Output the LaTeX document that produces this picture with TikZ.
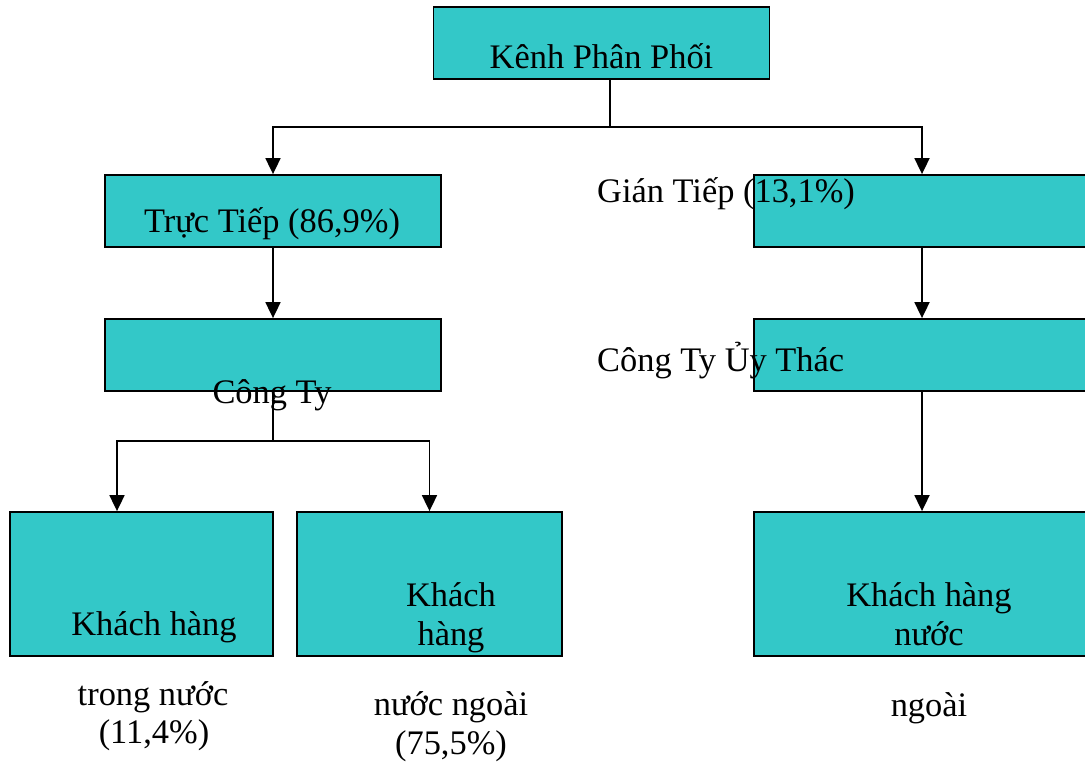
\documentclass[tikz,border=0pt]{standalone}
\usepackage{fontspec}
\setmainfont{Liberation Serif}
\usetikzlibrary{arrows.meta}
\definecolor{boxfill}{RGB}{51,200,200}
\begin{document}
\begin{tikzpicture}[x=1pt,y=-1pt]
	\tikzstyle{every node}=[font=\fontsize{34.4}{39}\selectfont, inner sep=0pt]
	\tikzstyle{box}=[draw=black, line width=1.8pt, fill=boxfill, minimum height=72pt, minimum width=336pt]
	\tikzstyle{tall}=[minimum height=144pt]
	\tikzstyle{label}=[anchor=base]
	\tikzstyle{link}=[line width=1.8pt]
	\tikzstyle{relation}=[link, -{Triangle[length=16pt,width=15pt]}]

	\clip (0,0) rectangle (1085,765);

	\node[box] (kpp) at (601.5,43) {};
	\node[box] (tt) at (273,211) {};
	\node[box] (gt) at (922,211) {};
	\node[box] (ct) at (273,355) {};
	\node[box] (ctut) at (922,355) {};
	\node[box, tall, minimum width=263pt] (khtn) at (141.5,584) {};
	\node[box, tall, minimum width=265pt] (khnn) at (429.5,584) {};
	\node[box, tall] (khn) at (922,584) {};

	\node[label] (kpptext) at (601.5,69) {Kênh Phân Phối};
	\node[label] (tttext) at (272,233) {Trực Tiếp (86,9\%)};
	\node[label, anchor=base west] (gttext) at (597,202) {Gián Tiếp (13,1\%)};
	\node[label] (cttext) at (272,403) {Công Ty};
	\node[label, anchor=base west] (ctuttext) at (597,371) {Công Ty Ủy Thác};
	\node[label] (khtn1) at (154,635) {Khách hàng};
	\node[label] (khtn2) at (153,705) {trong nước};
	\node[label] (khtn3) at (154,743) {(11,4\%)};
	\node[label] (khnn1) at (451,606) {Khách};
	\node[label] (khnn2) at (451,645) {hàng};
	\node[label] (khnn3) at (451,715) {nước ngoài};
	\node[label] (khnn4) at (451,754) {(75,5\%)};
	\node[label] (khn1) at (929,606) {Khách hàng};
	\node[label] (khn2) at (929,645) {nước};
	\node[label] (khn3) at (929,716) {ngoài};

	\coordinate (j1) at (610,127);
	\coordinate (j2) at (273,441);
	\draw[link] (kpp.south -| j1) -- (j1);
	\draw[relation] (j1) -| (tt.north);
	\draw[relation] (j1) -| (gt.north);
	\draw[relation] (tt.south) -- (ct.north);
	\draw[relation] (gt.south) -- (ctut.north);
	\draw[link] (ct.south) -- (j2);
	\draw[relation] (j2) -| ([xshift=-24.5pt]khtn.north);
	\draw[relation] (j2) -| (khnn.north);
	\draw[relation] (ctut.south) -- (khn.north);
\end{tikzpicture}
\end{document}
